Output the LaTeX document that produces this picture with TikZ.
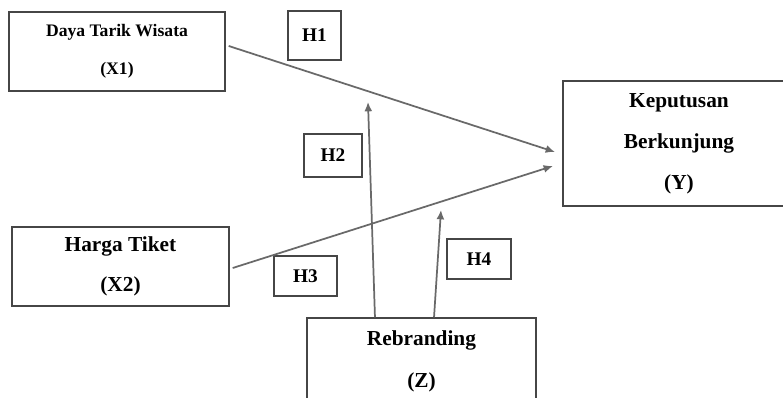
\documentclass[tikz,border=0pt]{standalone}
\usepackage{fontspec}
\setmainfont{Liberation Serif}
\usetikzlibrary{arrows.meta}
\definecolor{boxgray}{RGB}{70,70,70}
\definecolor{linegray}{RGB}{105,105,105}
\tikzset{every picture/.style={line width=0.75pt}}
\tikzset{
  varbox/.style={draw=boxgray, line width=1.1pt, align=center, inner sep=0pt, font=\bfseries},
  hypbox/.style={draw=boxgray, line width=1.1pt, inner sep=0pt, font=\fontsize{14.5}{16}\selectfont\bfseries},
  link/.style={draw=linegray, line width=1.3pt, -{Latex[length=7pt,width=6pt]}}
}
\begin{document}
\begin{tikzpicture}[x=0.75pt,y=0.75pt,yscale=-1,xscale=1]
\useasboundingbox (0,0) rectangle (783,398);
\clip (0,0) rectangle (783,398);
\fill[white] (0,0) rectangle (783,398);

% Variable boxes
\node (X1) [varbox, minimum width=162pt, minimum height=59.25pt, font=\fontsize{13.2}{28.5}\selectfont\bfseries] at (117,51.5) {Daya Tarik Wisata\\(X1)};
\node (X2) [varbox, minimum width=162.75pt, minimum height=59.25pt, font=\fontsize{16}{30}\selectfont\bfseries] at (120.5,266.5) {Harga Tiket\\(X2)};
\node (Y) [varbox, minimum width=174pt, minimum height=93.75pt, font=\fontsize{16}{30.75}\selectfont\bfseries] at (679,143.5) {Keputusan\\Berkunjung\\(Y)};
\node (Z) [varbox, minimum width=171.75pt, minimum height=64.5pt, font=\fontsize{16}{31.5}\selectfont\bfseries] at (421.5,361) {Rebranding\\(Z)};

% Hypothesis labels
\node (H1) [hypbox, minimum width=39.75pt, minimum height=36.75pt] at (314.5,35.5) {H1};
\node (H2) [hypbox, minimum width=43.5pt, minimum height=32.25pt] at (333,155.5) {H2};
\node (H3) [hypbox, minimum width=47.25pt, minimum height=30pt] at (305.5,276) {H3};
\node (H4) [hypbox, minimum width=48pt, minimum height=30pt] at (479,259) {H4};

% Arrow ends
\coordinate (tipX1) at (555,152);
\coordinate (tipX2) at (553,166);
\coordinate (tipH2) at (368,102);
\coordinate (tipH4) at (441,210);

% Paths
\draw [link] ([shift={(3,-5.5)}]X1.east) -- (tipX1);
\draw [link] ([shift={(3,1.5)}]X2.east) -- (tipX2);
\draw [link] ([xshift=-34.9pt]Z.north) -- (tipH2);
\draw [link] ([xshift=9.4pt]Z.north) -- (tipH4);

\end{tikzpicture}
\end{document}
